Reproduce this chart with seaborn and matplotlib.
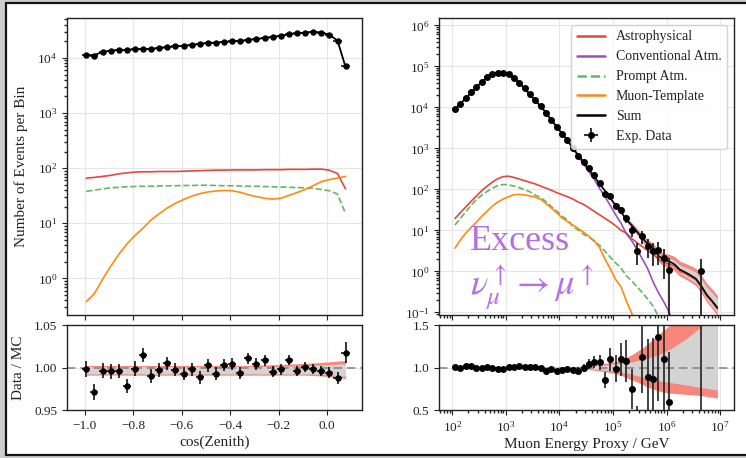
import numpy as np
import matplotlib
matplotlib.use("Agg")
import matplotlib.pyplot as plt
from matplotlib.lines import Line2D
from matplotlib.patches import Rectangle
from matplotlib.ticker import FuncFormatter
import seaborn as sns

# ---------------- data: zenith panel ----------------
cos_zen = [-0.993, -0.960, -0.926, -0.893, -0.859, -0.826, -0.793, -0.759, -0.726, -0.692,
           -0.659, -0.626, -0.592, -0.559, -0.525, -0.492, -0.459, -0.425, -0.392, -0.358,
           -0.325, -0.292, -0.258, -0.225, -0.191, -0.158, -0.125, -0.091, -0.058, -0.024,
           0.009, 0.043, 0.076]
zen_halfwidth = 0.0167
sum_zen = [1.12e4, 1.13e4, 1.28e4, 1.36e4, 1.39e4, 1.40e4, 1.43e4, 1.45e4, 1.45e4, 1.52e4,
           1.56e4, 1.62e4, 1.65e4, 1.72e4, 1.79e4, 1.87e4, 1.90e4, 1.95e4, 2.00e4, 2.03e4,
           2.11e4, 2.20e4, 2.30e4, 2.40e4, 2.53e4, 2.67e4, 2.80e4, 2.87e4, 2.99e4, 2.90e4,
           2.64e4, 2.06e4, 6.9e3]
ratio_zen = [0.998, 0.971, 0.996, 0.9956, 0.996, 0.978, 0.9988, 1.0147, 0.9897, 0.997,
             1.0048, 0.9976, 0.9925, 0.998, 0.9885, 1.0024, 0.9929, 1.0028, 1.0044, 0.994,
             1.0107, 1.004, 1.0083, 0.9952, 0.998, 1.0087, 0.9956, 1.0004, 0.9984, 0.9964,
             0.994, 0.988, 1.0175]
astro_zen = [66, 68, 71, 74, 79, 82, 85, 86, 86, 87, 87, 87, 88, 89, 90, 91, 92, 92, 93, 93,
             93, 93, 94, 94, 94, 95, 95, 95, 96, 96, 92, 80, 42]
prompt_zen = [38, 40, 42, 44, 45, 46, 46.5, 47, 47, 47.5, 48, 48, 48.5, 48.5, 49, 49, 48.5, 48,
              48, 47.5, 47, 47, 46.5, 46, 45.5, 45, 44.5, 44, 43, 41, 39, 34, 15]
muon_zen = [0.38, 0.53, 0.97, 1.65, 2.75, 4.2, 6.0, 8.2, 11.5, 15, 19, 23, 27, 31, 34.5, 37,
            38.5, 39.5, 39, 36.5, 33, 30.5, 28.5, 27.5, 28.5, 32, 36, 41, 48, 57, 62, 66, 71]
zen_gray_lo = [0.9925] * 28 + [0.9922, 0.9918, 0.9913, 0.9906, 0.9897]
zen_gray_hi = [1.0012] * 25 + [1.0015, 1.0018, 1.0021, 1.0025, 1.003, 1.0035, 1.004, 1.0044]
zen_red_lo = [0.991] * 28 + [0.9905, 0.99, 0.9893, 0.9883, 0.987]
zen_red_hi = [1.0024] * 20 + [1.0026, 1.0028, 1.003, 1.0033, 1.0036, 1.004, 1.0044, 1.0049,
                              1.0054, 1.006, 1.0066, 1.0074, 1.0083]

# ---------------- data: energy panel ----------------
log_e = [2.05, 2.15, 2.25, 2.35, 2.45, 2.55, 2.65, 2.75, 2.85, 2.95,
         3.05, 3.15, 3.25, 3.35, 3.45, 3.55, 3.65, 3.75, 3.85, 3.95,
         4.05, 4.15, 4.25, 4.35, 4.45, 4.55, 4.65, 4.75, 4.85, 4.95,
         5.05, 5.15, 5.25, 5.35, 5.45, 5.55, 5.65, 5.75, 5.85, 5.95,
         6.05, 6.15, 6.25, 6.35, 6.45, 6.55, 6.65, 6.75, 6.85, 6.95]
log_e_halfwidth = 0.05
nan = np.nan
data_e = [8936, 12200, 17000, 23050, 30750, 41630, 54220, 63740, 69860, 69860,
          65520, 52210, 39970, 29030, 20760, 14760, 10700, 7104, 4802, 3226,
          2226, 1555, 995, 665, 468, 324, 222, 142, 79, 67,
          40, 31, 19.5, 10, 3.2, 7.2, 4.2, 3.1, 3.25, 2.1,
          1.05, nan, nan, nan, nan, nan, 1.0, nan, nan, nan]
sum_e = [8.9e3, 1.22e4, 1.68e4, 2.26e4, 3.1e4, 4.18e4, 5.4e4, 6.4e4, 7.1e4, 7.1e4,
         6.5e4, 5.2e4, 3.95e4, 2.88e4, 2.06e4, 1.47e4, 1.07e4, 7.4e3, 4.9e3, 3.36e3,
         2.3e3, 1.58e3, 1.02e3, 690, 470, 311, 208, 134, 93, 61,
         40.5, 28.3, 18.1, 13.4, 9.2, 6.4, 4.7, 3.6, 2.4, 1.9,
         1.75, 1.48, 1.1, 0.95, 0.8, 0.66, 0.44, 0.27, 0.19, 0.13]
astro_e = [19.5, 27, 37, 51, 69, 93, 120, 151, 182, 204,
           209, 195, 178, 162, 148, 135, 120, 107, 95, 83,
           74, 66, 58, 49, 43, 35.5, 29, 24, 19.5, 16.2,
           12.9, 10, 8.5, 6.3, 5.0, 4.0, 3.2, 2.6, 2.0, 1.65,
           1.5, 1.35, 1.0, 0.88, 0.74, 0.62, 0.41, 0.25, 0.18, 0.12]
conv_e = [8860, 12150, 16720, 22480, 30850, 41590, 53730, 63710, 70710, 70710,
          64740, 51800, 39290, 28620, 20480, 14540, 10580, 7290, 4820, 3290,
          2240, 1540, 990, 640, 420, 270, 175, 105, 67, 40,
          24, 15, 8.2, 5.6, 3.4, 2.0, 1.15, 0.55, 0.30, 0.18,
          0.10, 0.04, 0.015, 0.006, 0.003, 0.0015, 0.001, 0.0006, 0.0004, 0.0003]
prompt_e = [13.5, 19.5, 28, 41, 56, 72, 89, 107, 123, 131,
            129, 120, 110, 98, 87, 72, 63, 50, 38, 29.5,
            22, 18, 12.3, 10.2, 8, 6.9, 5.4, 4.3, 3.1, 2.2,
            1.6, 1.2, 0.78, 0.58, 0.42, 0.3, 0.21, 0.14, 0.08, 0.05,
            0.03, 0.018, 0.011, 0.007, 0.004, 0.0025, 0.0015, 0.001, 0.0006, 0.0004]
muon_e = [3.7, 5.8, 8.5, 11.7, 15.8, 22, 29.5, 39, 49, 58,
          66, 74, 75, 73, 69, 64, 57, 45, 35, 27,
          20, 16.5, 13.5, 11, 9, 7.2, 5.6, 3.8, 2.0, 1.15,
          0.63, 0.42, 0.19, 0.095, 0.045, 0.02, 0.009, 0.004, 0.002, 0.001,
          0.0005, 0.0003, 0.0002, 0.0001, 0.0001, 0.0001, 0.0001, 0.0001, 0.0001, 0.0001]
e_gray_lo = [0.997] * 20 + [0.996, 0.995, 0.993, 0.991, 0.988, 0.985, 0.98, 0.975, 0.97, 0.963,
                            0.955, 0.945, 0.935, 0.92, 0.905, 0.89, 0.875, 0.86, 0.845, 0.835,
                            0.825, 0.815, 0.805, 0.795, 0.785, 0.775, 0.765, 0.755, 0.745, 0.735]
e_gray_hi = [1.003] * 20 + [1.004, 1.005, 1.007, 1.009, 1.012, 1.015, 1.02, 1.025, 1.03, 1.037,
                            1.045, 1.05, 1.055, 1.065, 1.08, 1.095, 1.11, 1.13, 1.15, 1.18,
                            1.21, 1.25, 1.29, 1.33, 1.38, 1.43, 1.48, 1.53, 1.58, 1.62]
e_red_lo = [0.994] * 20 + [0.992, 0.99, 0.988, 0.985, 0.98, 0.975, 0.968, 0.96, 0.95, 0.94,
                           0.925, 0.91, 0.88, 0.855, 0.83, 0.80, 0.77, 0.745, 0.725, 0.71,
                           0.70, 0.695, 0.69, 0.685, 0.68, 0.675, 0.67, 0.66, 0.65, 0.64]
e_red_hi = [1.006] * 20 + [1.008, 1.01, 1.012, 1.015, 1.02, 1.025, 1.03, 1.04, 1.05, 1.06,
                           1.07, 1.09, 1.12, 1.15, 1.19, 1.23, 1.28, 1.33, 1.39, 1.44,
                           1.49, 1.55, 1.6, 1.66, 1.72, 1.78, 1.84, 1.9, 1.96, 2.0]

labels = ["Astrophysical", "Conventional Atm.", "Prompt Atm.", "Muon-Template", "Sum", "Exp. Data"]

# ---------------- style ----------------
C_ASTRO = "#e8453c"
C_CONV = "#9b4fb8"
C_PROMPT = "#62b862"
C_MUON = "#ff8a12"
C_RED_BAND = "#f7877b"
C_GRAY_BAND = "#d3d3d3"
C_TEXT = "#b46ee6"

sns.set_theme(style="whitegrid")
plt.rcParams.update({
    "axes.edgecolor": "#222222",
    "axes.linewidth": 1.0,
    "axes.axisbelow": True,
    "grid.color": "#e6e6e6",
    "grid.linewidth": 0.8,
    "xtick.bottom": True,
    "ytick.left": True,
    "xtick.direction": "out",
    "ytick.direction": "out",
    "xtick.major.size": 3.5,
    "ytick.major.size": 3.5,
    "xtick.minor.size": 2.0,
    "ytick.minor.size": 2.0,
    "xtick.major.width": 0.8,
    "ytick.major.width": 0.8,
    "xtick.color": "#222222",
    "ytick.color": "#222222",
    "xtick.labelsize": 9.5,
    "ytick.labelsize": 9.5,
    "text.color": "#222222",
    "axes.labelcolor": "#222222",
    "mathtext.fontset": "stix",
})
plt.rcParams["font.family"] = ["Liberation Serif", "DejaVu Serif"]


def fmt_num(decimals):
    def f(v, pos):
        s = f"{v:.{decimals}f}"
        return s.replace("-", "\u2212")
    return FuncFormatter(f)


fig = plt.figure(figsize=(7.46, 4.58), dpi=100)
fig.patch.set_facecolor("#cdcdcd")
fig.add_artist(Rectangle((0.0074, 0.0066), 1.2, 0.9858, transform=fig.transFigure,
                         facecolor="white", edgecolor="#151515", lw=1.6, zorder=-5))

W = 0.39544
axL = fig.add_axes([0.08981, 0.31223, W, 0.64847])
axLr = fig.add_axes([0.08981, 0.10480, W, 0.18559], sharex=axL)
axR = fig.add_axes([0.58847, 0.31223, W, 0.64847])
axRr = fig.add_axes([0.58847, 0.10480, W, 0.18559], sharex=axR)

MS = 3.6

# ---------------- left: zenith ----------------
cz = np.array(cos_zen)
s_z = np.array(sum_zen)
r_z = np.array(ratio_zen)
d_z = s_z * r_z
axL.set_yscale("log")
sns.lineplot(x=cz, y=astro_zen, ax=axL, color=C_ASTRO, lw=1.2, estimator=None, sort=False)
sns.lineplot(x=cz, y=prompt_zen, ax=axL, color=C_PROMPT, lw=1.2, linestyle="--",
             estimator=None, sort=False)
sns.lineplot(x=cz, y=muon_zen, ax=axL, color=C_MUON, lw=1.2, estimator=None, sort=False)
sns.lineplot(x=cz, y=s_z, ax=axL, color="black", lw=1.3, estimator=None, sort=False)
axL.errorbar(cz, d_z, xerr=zen_halfwidth, yerr=np.sqrt(d_z), fmt="o", color="black",
             ms=MS, elinewidth=1.1, capsize=0, zorder=5)
axL.set_xlim(-1.073, 0.144)
axL.set_ylim(0.217, 5.3e4)
axL.set_ylabel("Number of Events per Bin", fontsize=11)
axL.yaxis.set_label_coords(-0.132, 0.5)
axL.tick_params(axis="x", labelbottom=False)
axL.set_xticks([-1.0, -0.8, -0.6, -0.4, -0.2, 0.0])

axLr.fill_between(cz, zen_red_lo, zen_red_hi, color=C_RED_BAND, lw=0, zorder=1)
axLr.fill_between(cz, zen_gray_lo, zen_gray_hi, color=C_GRAY_BAND, lw=0, zorder=1.1)
axLr.axhline(1.0, color="#888888", ls=(0, (5, 3)), lw=1.2, zorder=1.2)
axLr.errorbar(cz, r_z, xerr=zen_halfwidth, yerr=np.sqrt(d_z) / s_z, fmt="o", color="black",
              ms=MS, elinewidth=1.1, capsize=0, zorder=5)
axLr.set_ylim(0.95, 1.05)
axLr.set_yticks([0.95, 1.0, 1.05])
axLr.yaxis.set_major_formatter(fmt_num(2))
axLr.set_xticks([-1.0, -0.8, -0.6, -0.4, -0.2, 0.0])
axLr.xaxis.set_major_formatter(fmt_num(1))
axLr.set_ylabel("Data / MC", fontsize=11)
axLr.yaxis.set_label_coords(-0.142, 0.5)
axLr.set_xlabel("cos(Zenith)", fontsize=11, labelpad=3)

# ---------------- right: energy ----------------
le = np.array(log_e)
E = 10 ** le
xerr_e = np.array([E - 10 ** (le - log_e_halfwidth), 10 ** (le + log_e_halfwidth) - E])
s_e = np.array(sum_e)
d_e = np.array(data_e)
ok = ~np.isnan(d_e)

axR.set_xscale("log")
axR.set_yscale("log")
axR.fill_between(E, s_e * np.array(e_red_lo), s_e * np.array(e_red_hi), color=C_RED_BAND,
                 lw=0, zorder=1)
axR.fill_between(E, s_e * np.array(e_gray_lo), s_e * np.array(e_gray_hi), color=C_GRAY_BAND,
                 lw=0, zorder=1.1)
sns.lineplot(x=E, y=astro_e, ax=axR, color=C_ASTRO, lw=1.2, estimator=None, sort=False)
sns.lineplot(x=E, y=conv_e, ax=axR, color=C_CONV, lw=1.2, estimator=None, sort=False)
sns.lineplot(x=E, y=prompt_e, ax=axR, color=C_PROMPT, lw=1.2, linestyle="--",
             estimator=None, sort=False)
sns.lineplot(x=E, y=muon_e, ax=axR, color=C_MUON, lw=1.2, estimator=None, sort=False)
sns.lineplot(x=E, y=s_e, ax=axR, color="black", lw=1.2, estimator=None, sort=False)
eb = axR.errorbar(E[ok], d_e[ok], xerr=xerr_e[:, ok], yerr=np.sqrt(d_e[ok]), fmt="o",
                  color="black", ms=MS + 0.4, elinewidth=1.3, ecolor="#222222", capsize=0,
                  zorder=5)
axR.set_xlim(56.4, 1.82e7)
axR.set_ylim(0.0861, 1.51e6)
axR.tick_params(axis="x", labelbottom=False)

axR.text(0.105, 0.219, "Excess", transform=axR.transAxes, fontsize=26, color=C_TEXT,
         ha="left", va="baseline", zorder=6)
axR.text(0.105, 0.067, r"$\nu_\mu^\uparrow \rightarrow \mu^\uparrow$", transform=axR.transAxes,
         fontsize=26, color=C_TEXT, ha="left", va="baseline", zorder=6)

handles = [
    Line2D([], [], color=C_ASTRO, lw=1.8),
    Line2D([], [], color=C_CONV, lw=1.8),
    Line2D([], [], color=C_PROMPT, lw=1.8, ls="--"),
    Line2D([], [], color=C_MUON, lw=1.8),
    Line2D([], [], color="black", lw=1.8),
    eb,
]
leg = axR.legend(handles, labels, loc="upper right", fontsize=10, frameon=True,
                 framealpha=0.85, edgecolor="#cccccc", fancybox=True, borderaxespad=0.5)
leg.set_zorder(10)

r_e = d_e / s_e
axRr.fill_between(E, e_red_lo, e_red_hi, color=C_RED_BAND, lw=0, zorder=1)
axRr.fill_between(E, e_gray_lo, e_gray_hi, color=C_GRAY_BAND, lw=0, zorder=1.1)
axRr.axhline(1.0, color="#888888", ls=(0, (5, 3)), lw=1.2, zorder=1.2)
axRr.errorbar(E[ok], r_e[ok], xerr=xerr_e[:, ok], yerr=np.sqrt(d_e[ok]) / s_e[ok], fmt="o",
              color="black", ms=MS + 0.4, elinewidth=1.2, ecolor="#222222", capsize=0, zorder=5)
axRr.set_ylim(0.5, 1.5)
axRr.set_yticks([0.5, 1.0, 1.5])
axRr.yaxis.set_major_formatter(fmt_num(1))
axRr.set_xlabel("Muon Energy Proxy / GeV", fontsize=11, labelpad=3)

for ax in (axL, axLr, axR, axRr):
    ax.grid(True, which="major")
    ax.grid(False, which="minor")
    for sp in ax.spines.values():
        sp.set_color("#222222")

fig.savefig("out.png", dpi=100, facecolor=fig.get_facecolor())
